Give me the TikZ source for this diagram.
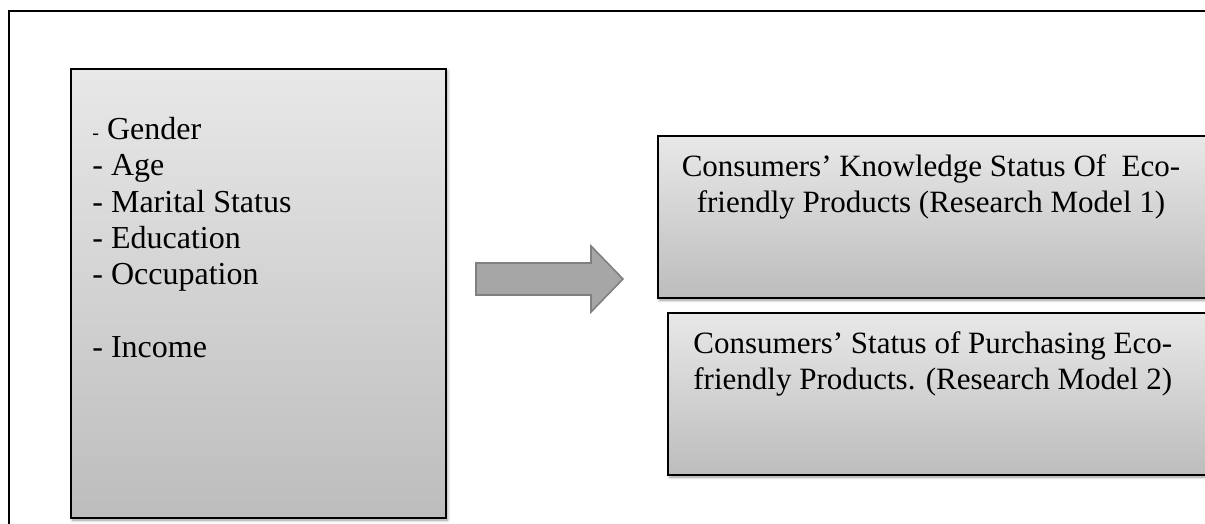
\documentclass[tikz,border=0pt]{standalone}
\usepackage{fontspec}
\setmainfont{Liberation Serif}
\usetikzlibrary{shadows.blur}

\begin{document}
\begin{tikzpicture}[x=0.5pt,y=-0.5pt,
	grbox/.style={draw=black, line width=0.9pt, inner sep=0pt, outer sep=0pt,
		top color=black!9, bottom color=black!26,
		blur shadow={shadow xshift=0.8pt, shadow yshift=-1pt, shadow blur radius=1.5pt, shadow opacity=40}},
	boxtext/.style={inner sep=0pt, font=\fontsize{15.5}{18}\selectfont}]
	\useasboundingbox (0,0) rectangle (1205,524);
	\clip (0,0) rectangle (1205,524);
	% frame, runs off at right and bottom
	\draw[line width=0.9pt] (9,11) rectangle (1230,545);
	
	% demographic factors
	\node[grbox, minimum width=187.5pt, minimum height=224.5pt, anchor=north west] (demog) at (71,69) {};
	\node[boxtext, font=\fontsize{16}{18.1}\selectfont, align=left, anchor=north west] (demotext) at (92,117)
		{{\fontsize{10}{10}\selectfont -} Gender\\- Age\\- Marital Status\\- Education\\- Occupation\\[18.3pt]- Income};
	
	% block arrow
	\filldraw[draw=black!50, line width=0.8pt, fill=black!35, line join=miter]
		(476,263) -- (591,263) -- (591,246) -- (623,279) -- (591,312) -- (591,295) -- (476,295) -- cycle;
	
	% research models
	\node[grbox, minimum width=286pt, minimum height=81pt, anchor=north west] (model1) at (658,136) {};
	\node[boxtext, align=center, anchor=north] (model1text) at (931,154)
		{Consumers’ Knowledge Status Of~ Eco-\\friendly Products (Research Model 1)};
	\node[grbox, minimum width=281pt, minimum height=81pt, anchor=north west] (model2) at (668,313) {};
	\node[boxtext, align=left, anchor=north west] (model2text) at (693,331)
		{Consumers’ Status of Purchasing Eco-\\friendly Products. (Research Model 2)};
\end{tikzpicture}
\end{document}
